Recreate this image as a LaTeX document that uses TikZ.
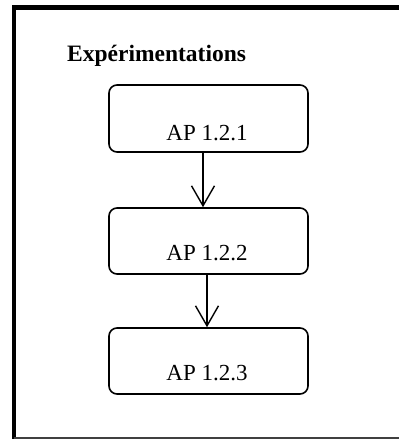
\documentclass[tikz,border=0pt]{standalone}
\usepackage{fontspec}
\setmainfont{Liberation Serif}
\usetikzlibrary{arrows.meta}
\tikzset{
  apbox/.style={draw, line width=1.6pt, rounded corners=8pt, minimum width=199pt, minimum height=66pt, inner sep=0pt},
  aptext/.style={font=\fontsize{23}{27}\selectfont},
  flow/.style={line width=1.4pt, -{Straight Barb[length=20pt,width=23pt,line width=1.4pt]}},
}
\begin{document}
\begin{tikzpicture}[x=1pt,y=-1pt]
\useasboundingbox (0,0) rectangle (399,439);
% frame
\coordinate (fbl) at (14,439);
\coordinate (ftl) at (14,7.5);
\coordinate (ftr) at (399,7.5);
\coordinate (fb1) at (14,438);
\coordinate (fb2) at (399,438);
\draw[line width=4.5pt] (fbl) -- (ftl) -- (ftr);
\draw[line width=1.2pt, black!75] (fb1) -- (fb2);
% title
\node[anchor=base west, inner sep=0pt, font=\fontsize{23.5}{28}\selectfont\bfseries] (title) at (67,61) {Expérimentations};
% boxes
\node[apbox, minimum height=67pt] (b1) at (208.5,118.5) {};
\node[apbox] (b2) at (208.5,241) {};
\node[apbox] (b3) at (208.5,361) {};
\node[aptext] (t1) at ([xshift=-1.5pt, yshift=-14.5pt]b1.center) {AP 1.2.1};
\node[aptext] (t2) at ([xshift=-1.5pt, yshift=-12pt]b2.center) {AP 1.2.2};
\node[aptext] (t3) at ([xshift=-1.5pt, yshift=-12pt]b3.center) {AP 1.2.3};
% arrows
\draw[flow] ([xshift=-5.5pt]b1.south) -- ([xshift=-5.5pt]b2.north);
\draw[flow] ([xshift=-1.5pt]b2.south) -- ([xshift=-1.5pt]b3.north);
\end{tikzpicture}
\end{document}
